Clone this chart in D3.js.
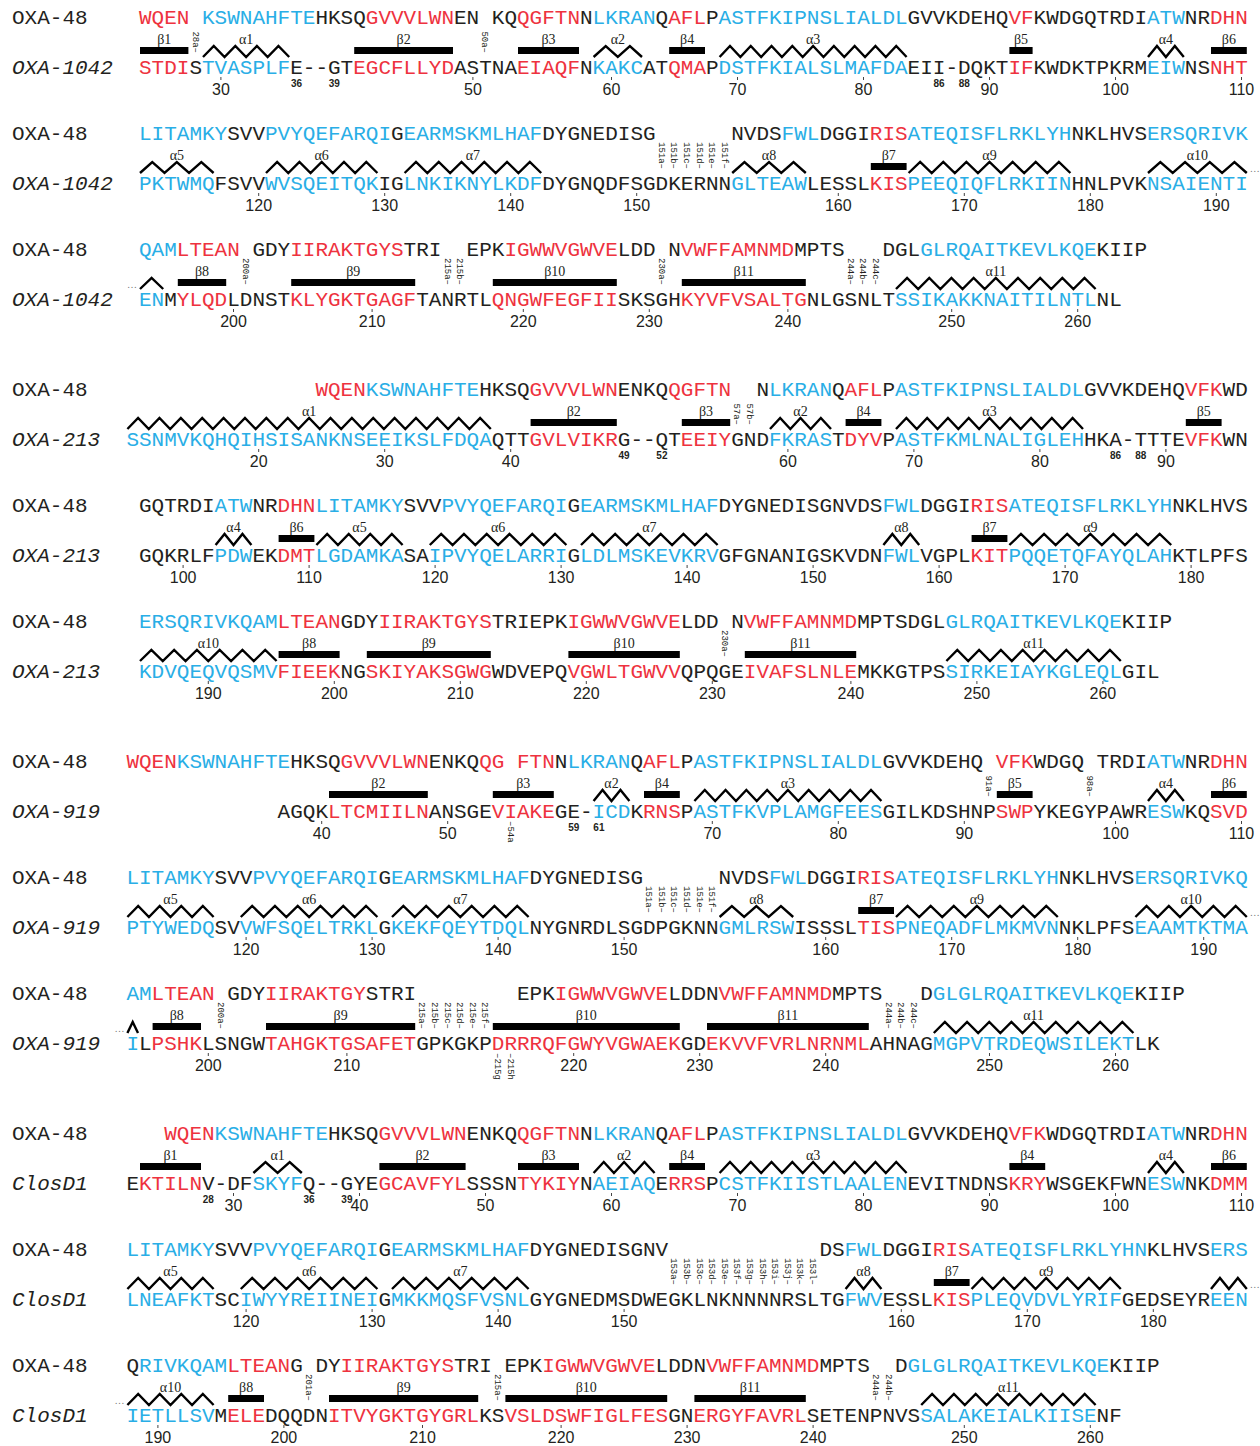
<!DOCTYPE html>
<html>
<head>
<meta charset="utf-8">
<script src="https://cdn.jsdelivr.net/npm/d3@7"></script>
<style>
  body { margin: 0; background: #fff; }
  svg { display: block; }
</style>
</head>
<body>
<svg id="chart"></svg>
<script>
// alignment partner of OXA-48 in each block
const partners = ["OXA-1042", "OXA-213", "OXA-919", "ClosD1"];

// sequence lines: index = alignment column, [..] = red (strand), {..} = blue (helix)
const refLines = [
  " [WQEN] {KSWNAHFTE}HKSQ[GVVVLWN]EN KQ[QGFTN]N{LKRAN}Q[AFL]P{ASTFKIPNSLIALDL}GVVKDEHQ[VF]KWDGQTRDI{ATW}NR[DHN]",
  " {LITAMKY}SVV{PVYQEFARQI}G{EARMSKMLHAF}DYGNEDISG      NVDS{FWL}DGGI[RIS]{ATEQISFLRKLYH}NKLHVS{ERSQRIVK}",
  " {QAM}[LTEAN] GDY[IIRAKTGYS]TRI  EPK[IGWWVGWVE]LDD N[VWFFAMNMD]MPTS   DGL{GLRQAITKEVLKQE}KIIP",
  "               [WQEN]{KSWNAHFTE}HKSQ[GVVVLWN]ENKQ[QGFTN]  N{LKRAN}Q[AFL]P{ASTFKIPNSLIALDL}GVVKDEHQ[VFK]WD",
  " GQTRDI{ATW}NR[DHN]{LITAMKY}SVV{PVYQEFARQI}G{EARMSKMLHAF}DYGNEDISGNVDS{FWL}DGGI[RIS]{ATEQISFLRKLYH}NKLHVS",
  " {ERSQRIVKQAM}[LTEAN]GDY[IIRAKTGYS]TRIEPK[IGWWVGWVE]LDD N[VWFFAMNMD]MPTSDGL{GLRQAITKEVLKQE}KIIP",
  "[WQEN]{KSWNAHFTE}HKSQ[GVVVLWN]ENKQ[QG] [FTN]N{LKRAN}Q[AFL]P{ASTFKIPNSLIALDL}GVVKDEHQ [VFK]WDGQ TRDI{ATW}NR[DHN]",
  "{LITAMKY}SVV{PVYQEFARQI}G{EARMSKMLHAF}DYGNEDISG      NVDS{FWL}DGGI[RIS]{ATEQISFLRKLYH}NKLHVS{ERSQRIVKQ}",
  "{AM}[LTEAN] GDY[IIRAKTGY]STRI        EPK[IGWWVGWVE]LDDN[VWFFAMNMD]MPTS   D{GLGLRQAITKEVLKQE}KIIP",
  "   [WQEN]{KSWNAHFTE}HKSQ[GVVVLWN]ENKQ[QGFTN]N{LKRAN}Q[AFL]P{ASTFKIPNSLIALDL}GVVKDEHQ[VFK]WDGQTRDI{ATW}NR[DHN]",
  "{LITAMKY}SVV{PVYQEFARQI}G{EARMSKMLHAF}DYGNEDISGNV            DS{FWL}DGGI[RIS]{ATEQISFLRKLYHN}KLHVS{ERS}",
  "Q{RIVKQAM}[LTEAN]G DY[IIRAKTGYS]TRI EPK[IGWWVGWVE]LDDN[VWFFAMNMD]MPTS  D{GLGLRQAITKEVLKQE}KIIP"
];

const partnerLines = [
  " [STDI]S{TVASPLF}E--GT[EGCFLLYD]ASTNA[EIAQF]N{KAKC}AT[QMA]P{DSTFKIALSLMAFDA}EII-DQKT[IF]KWDKTPKRM{EIW}NS[NHT]",
  " {PKTWMQ}FSVV{WVSQEITQK}IG{LNKIKNYLKDF}DYGNQDFSGDKERNN{GLTEAW}LESSL[KIS]{PEEQIQFLRKIIN}HNLPVK{NSAIENTI}",
  " {EN}M[YLQD]LDNST[KLYGKTGAGF]TANRTL[QNGWFEGFII]SKSGH[KYVFVSALTG]NLGSNLT{SSIKAKKNAITILNTL}NL",
  "{SSNMVKQHQIHSISANKNSEEIKSLFDQA}QTT[GVLVIKR]G--QT[EEIY]GND{FKRAS}T[DYV]P{ASTFKMLNALIGLEH}HKA-TTTE[VFK]WN",
  " GQKRLF{PDW}EK[DMT]{LGDAMKA}SA{IPVYQELARRI}G{LDLMSKEVKRV}GFGNANIGSKVDN{FWL}VGPL[KIT]{PQQETQFAYQLAH}KTLPFS",
  " {KDVQEQVQSMV}[FIEEK]NG[SKIYAKSGWG]WDVEPQ[VGWLTGWVV]QPQGE[IVAFSLNLE]MKKGTPS{SIRKEIAYKGLEQL}GIL",
  "            AGQK[LTCMIILN]ANSGE[VIAKE]GE-{ICD}K[RNS]P{ASTFKVPLAMGFEES}GILKDSHNP[SWP]YKEGYPAWR{ESW}KQ[SVD]",
  "{PTYWEDQ}SV{VWFSQELTRKL}G{KEKFQEYTDQL}NYGNRDLSGDPGKNN{GMLRSW}ISSSL[TIS]{PNEQADFLMKMVN}NKLPFS{EAAMTKTMA}",
  "{I}L[PSHK]LSNGW[TAHGKTGSAFET]GPKGKP[DRRRQFGWYVGWAEK]GD[EKVVFVRLNRNML]AHNAG{MGPVTRDEQWSILEKT}LK",
  "E[KTILN]V-DF{SKYF}Q--GYE[GCAVFYL]SSSN[TYKIY]N{AEIAQ}E[RRS]P{CSTFKIISTLAALEN}EVITNDNS[KRY]WSGEKFWN{ESW}NK[DMM]",
  "{LNEAFKT}SC{IWYYREIINEI}G{MKKMQSFVSNL}GYGNEDMSDWEGKLNKNNNNRSLTG{FWV}ESSL[KIS]{PLEQVDVLYRIF}GEDSEYR{EEN}",
  "{IETLLSV}M[ELE]DQQDN[ITVYGKTGYGRL]KS[VSLDSWFIGLFES]GN[ERGYFAVRL]SETENPNVS{SALAKEIALKIISE}NF"
];

// one label per coloured run of the partner line; "<" = continued from previous line, ">" = continues
const ssLabels = [
  ["β1", "α1", "β2", "β3", "α2", "β4", "α3", "β5", "α4", "β6"],
  ["α5", "α6", "α7", "α8", "β7", "α9", "α10>"],
  ["<", "β8", "β9", "β10", "β11", "α11"],
  ["α1", "β2", "β3", "α2", "β4", "α3", "β5"],
  ["α4", "β6", "α5", "α6", "α7", "α8", "β7", "α9"],
  ["α10", "β8", "β9", "β10", "β11", "α11"],
  ["β2", "β3", "α2", "β4", "α3", "β5", "α4", "β6"],
  ["α5", "α6", "α7", "α8", "β7", "α9", "α10>"],
  ["<", "β8", "β9", "β10", "β11", "α11"],
  ["β1", "α1", "β2", "β3", "α2", "β4", "α3", "β4", "α4", "β6"],
  ["α5", "α6", "α7", "α8", "β7", "α9", ">"],
  ["<α10", "β8", "β9", "β10", "β11", "α11"]
];

// OXA-48 numbering: [number, column]
const tenMarks = [
  [[30, 7], [50, 27], [60, 38], [70, 48], [80, 58], [90, 68], [100, 78], [110, 88]],
  [[120, 10], [130, 20], [140, 30], [150, 40], [160, 56], [170, 66], [180, 76], [190, 86]],
  [[200, 8], [210, 19], [220, 31], [230, 41], [240, 52], [250, 65], [260, 75]],
  [[20, 10], [30, 20], [40, 30], [60, 52], [70, 62], [80, 72], [90, 82]],
  [[100, 4], [110, 14], [120, 24], [130, 34], [140, 44], [150, 54], [160, 64], [170, 74], [180, 84]],
  [[190, 6], [200, 16], [210, 26], [220, 36], [230, 46], [240, 57], [250, 67], [260, 77]],
  [[40, 15], [50, 25], [70, 46], [80, 56], [90, 66], [100, 78], [110, 88]],
  [[120, 9], [130, 19], [140, 29], [150, 39], [160, 55], [170, 65], [180, 75], [190, 85]],
  [[200, 6], [210, 17], [220, 35], [230, 45], [240, 55], [250, 68], [260, 78]],
  [[30, 8], [40, 18], [50, 28], [60, 38], [70, 48], [80, 58], [90, 68], [100, 78], [110, 88]],
  [[120, 9], [130, 19], [140, 29], [150, 39], [160, 61], [170, 71], [180, 81]],
  [[190, 2], [200, 12], [210, 23], [220, 34], [230, 44], [240, 54], [250, 66], [260, 76]]
];

// residues flanking deletions in the partner
const gapMarks = [
  [[36, 13], [39, 16], [86, 64], [88, 66]],
  [], [],
  [[49, 39], [52, 42], [86, 78], [88, 80]],
  [], [],
  [[59, 35], [61, 37]],
  [], [],
  [[28, 6], [36, 14], [39, 17]],
  [], []
];

// insertion codes in OXA-48 numbering: [label, column]
const insTop = [
  [["28a", 5], ["50a", 28]],
  [["151a", 42], ["151b", 43], ["151c", 44], ["151d", 45], ["151e", 46], ["151f", 47]],
  [["200a", 9], ["215a", 25], ["215b", 26], ["230a", 42], ["244a", 57], ["244b", 58], ["244c", 59]],
  [["57a", 48], ["57b", 49]],
  [],
  [["230a", 47]],
  [["91a", 68], ["98a", 76]],
  [["151a", 41], ["151b", 42], ["151c", 43], ["151d", 44], ["151e", 45], ["151f", 46]],
  [["200a", 7], ["215a", 23], ["215b", 24], ["215c", 25], ["215d", 26], ["215e", 27], ["215f", 28],
   ["244a", 60], ["244b", 61], ["244c", 62]],
  [],
  [["153a", 43], ["153b", 44], ["153c", 45], ["153d", 46], ["153e", 47], ["153f", 48],
   ["153g", 49], ["153h", 50], ["153i", 51], ["153j", 52], ["153k", 53], ["153l", 54]],
  [["201a", 14], ["215a", 29], ["244a", 59], ["244b", 60]]
];
const insBottom = [[], [], [], [], [], [], [["54a", 30]], [], [["215g", 29], ["215h", 30]], [], [], []];

const RED = "#ee323e", BLUE = "#29aee6", INK = "#231f20";
const MONO = "'Liberation Mono', 'DejaVu Sans Mono', monospace";
const NUMF = "'Liberation Sans Narrow', 'Liberation Sans', Arial, sans-serif";

const W = 1260, H = 1446;
const svg = d3.select("#chart").attr("width", W).attr("height", H);
svg.append("rect").attr("width", W).attr("height", H).attr("fill", "#fff");

// column -> x, row -> y
const x = d3.scaleLinear().domain([0, 89]).range([126.4, 1247.8]);
const blockY = d3.scaleLinear().domain([0, 3]).range([17, 1133]);
const rowStep = 116;

function parseLine(s) {
  let out = [], col = 0, color = INK;
  for (const ch of s) {
    if (ch === "[") { color = RED; continue; }
    if (ch === "{") { color = BLUE; continue; }
    if (ch === "]" || ch === "}") { color = INK; continue; }
    if (ch !== " ") out.push({ col: col, ch: ch, color: color });
    col++;
  }
  return out;
}

function runsOf(res) {
  let runs = [];
  res.forEach(function(r) {
    if (r.color === INK) return;
    let last = runs[runs.length - 1];
    if (last && last.color === r.color && last.c1 === r.col - 1) last.c1 = r.col;
    else runs.push({ color: r.color, c0: r.col, c1: r.col });
  });
  return runs;
}

function zigzag(x0, x1, yTop, yBot) {
  let n = Math.max(1, Math.round((x1 - x0) / 22));
  let step = (x1 - x0) / (2 * n);
  let pts = [[x0, yBot]];
  for (let k = 0; k < n; k++) {
    pts.push([x0 + (2 * k + 1) * step, yTop]);
    pts.push([x0 + (2 * k + 2) * step, yBot]);
  }
  return d3.line()(pts);
}

function drawSeq(g, res, baseY) {
  g.selectAll(null)
    .data(res)
    .enter()
    .append("text")
    .attr("x", function(d) { return x(d.col + 0.5); })
    .attr("y", baseY)
    .attr("text-anchor", "middle")
    .attr("font-family", MONO)
    .attr("font-size", 21)
    .attr("fill", function(d) { return d.color; })
    .text(function(d) { return d.ch; });
}

refLines.forEach(function(line, i) {
  let block = Math.floor(i / 3);
  let y0 = blockY(block) + (i % 3) * rowStep;
  let g = svg.append("g").attr("class", "row");

  // row names
  g.append("text").attr("x", 12).attr("y", y0 + 7)
    .attr("font-family", MONO).attr("font-size", 21).attr("fill", INK)
    .text("OXA-48");
  g.append("text").attr("x", 12).attr("y", y0 + 57)
    .attr("font-family", MONO).attr("font-size", 21).attr("font-style", "italic").attr("fill", INK)
    .text(partners[block]);

  drawSeq(g, parseLine(line), y0 + 7);
  let pres = parseLine(partnerLines[i]);
  drawSeq(g, pres, y0 + 57);

  // secondary structure from the coloured runs of the partner
  runsOf(pres).forEach(function(run, k) {
    let lab = ssLabels[i][k] || "";
    let lead = lab.startsWith("<"), trail = lab.endsWith(">");
    lab = lab.replace(/[<>]/g, "");
    let xa = x(run.c0) + 1, xb = x(run.c1 + 1) - 1;
    if (run.color === RED) {
      g.append("rect").attr("x", xa).attr("y", y0 + 30)
        .attr("width", xb - xa).attr("height", 7).attr("fill", "#000");
    } else {
      g.append("path").attr("d", zigzag(xa, xb, y0 + 29, y0 + 40))
        .attr("fill", "none").attr("stroke", "#000").attr("stroke-width", 2.4)
        .attr("stroke-linejoin", "miter");
    }
    if (lab) {
      g.append("text").attr("x", (xa + xb) / 2).attr("y", y0 + 26.5)
        .attr("text-anchor", "middle").attr("font-family", "'Liberation Serif', serif")
        .attr("font-size", 14).attr("fill", INK).text(lab);
    }
    if (lead) {
      g.append("text").attr("x", xa - 3).attr("y", y0 + 39).attr("text-anchor", "end")
        .attr("font-size", 10).attr("fill", "#777").text("…");
    }
    if (trail) {
      g.append("text").attr("x", xb + 3).attr("y", y0 + 39)
        .attr("font-size", 10).attr("fill", "#777").text("…");
    }
  });

  // numbering every ten residues
  let tens = g.selectAll(null).data(tenMarks[i]).enter().append("g")
    .attr("transform", function(d) { return "translate(" + x(d[1] + 0.5) + "," + y0 + ")"; });
  tens.append("line").attr("y1", 60).attr("y2", 63).attr("stroke", "#444").attr("stroke-width", 1);
  tens.append("text").attr("y", 78).attr("text-anchor", "middle")
    .attr("font-family", NUMF).attr("font-size", 16).attr("fill", INK)
    .text(function(d) { return d[0]; });

  g.selectAll(null).data(gapMarks[i]).enter().append("text")
    .attr("x", function(d) { return x(d[1] + 0.5); })
    .attr("y", y0 + 70).attr("text-anchor", "middle")
    .attr("font-family", NUMF).attr("font-size", 10).attr("font-weight", "bold").attr("fill", INK)
    .text(function(d) { return d[0]; });

  // insertion codes, written vertically
  g.selectAll(null).data(insTop[i]).enter().append("text")
    .attr("transform", function(d) { return "translate(" + x(d[1] + 0.5) + "," + (y0 + 36) + ") rotate(90)"; })
    .attr("dy", "0.35em").attr("text-anchor", "end")
    .attr("font-family", MONO).attr("font-size", 9).attr("fill", INK)
    .text(function(d) { return d[0] + "–"; });

  g.selectAll(null).data(insBottom[i]).enter().append("text")
    .attr("transform", function(d) { return "translate(" + x(d[1] + 0.5) + "," + (y0 + 60) + ") rotate(90)"; })
    .attr("dy", "0.35em").attr("text-anchor", "start")
    .attr("font-family", MONO).attr("font-size", 9).attr("fill", INK)
    .text(function(d) { return "–" + d[0]; });
});
</script>
</body>
</html>
